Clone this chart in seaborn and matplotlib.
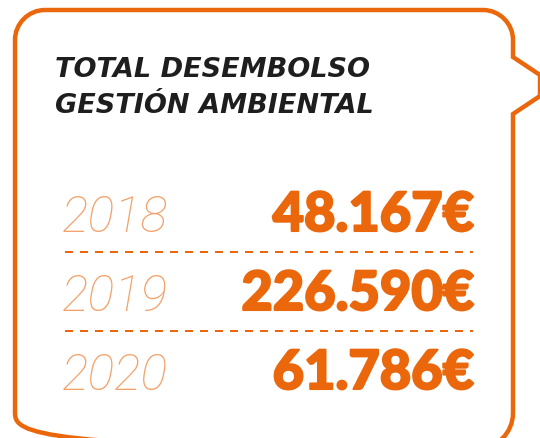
import numpy as np
import matplotlib
matplotlib.use("Agg")
import matplotlib.pyplot as plt
import matplotlib.patheffects as pe
from matplotlib.path import Path
from matplotlib.patches import PathPatch
import seaborn as sns

# data
title_lines = ["TOTAL DESEMBOLSO", "GESTIÓN AMBIENTAL"]
years = ["2018", "2019", "2020"]
amounts = [48167, 226590, 61786]

ORANGE = "#EA670C"
LIGHT = "#F2A26A"
DARK = "#1E1E1E"

sns.set_theme(style="white")
plt.rcParams["font.family"] = ["Roboto", "DejaVu Sans"]


def fmt_eur(v):
    # spanish thousands separator
    return f"{v:,}".replace(",", ".") + "€"


fig = plt.figure(figsize=(5.4, 4.39), dpi=100)
ax = fig.add_axes([0, 0, 1, 1])
ax.set_xlim(0, 540)
ax.set_ylim(439, 0)
ax.axis("off")

# speech bubble outline
L, T, R, B = 15, 11, 513, 450
r, rb = 30, 36
k = 0.45
verts = [
    (L + r, T), (R - r, T),
    (R - r * k, T), (R, T + r * k), (R, T + r),
    (R, 58), (540, 76), (540, 97), (R, 115),
    (R, B - rb),
    (R, B - rb * k), (R - rb * k, B), (R - rb, B),
    (L + rb, B),
    (L + rb * k, B), (L, B - rb * k), (L, B - rb),
    (L, T + r),
    (L, T + r * k), (L + r * k, T), (L + r, T),
]
codes = [Path.MOVETO, Path.LINETO,
         Path.CURVE4, Path.CURVE4, Path.CURVE4,
         Path.LINETO, Path.LINETO, Path.LINETO, Path.LINETO,
         Path.LINETO,
         Path.CURVE4, Path.CURVE4, Path.CURVE4,
         Path.LINETO,
         Path.CURVE4, Path.CURVE4, Path.CURVE4,
         Path.LINETO,
         Path.CURVE4, Path.CURVE4, Path.CURVE4]
ax.add_patch(PathPatch(Path(verts, codes), facecolor="none", edgecolor=ORANGE,
                       lw=3.2, clip_on=False, joinstyle="miter"))

# title
for i, line in enumerate(title_lines):
    ax.text(55, 77 + i * 36, line, fontsize=19.5, fontweight="bold", style="italic",
            family=["DejaVu Sans"], color=DARK, va="baseline", ha="left")

# rows
base0, step = 232, 79
for i, (yr, amt) in enumerate(zip(years, amounts)):
    yb = base0 + i * step
    ax.text(62, yb, yr, fontsize=36, fontweight=100, style="italic",
            color=LIGHT, va="baseline", ha="left")
    ax.text(474, yb, fmt_eur(amt), fontsize=39, fontweight=900,
            family=["Lato", "DejaVu Sans"],
            color=ORANGE, va="baseline", ha="right",
            path_effects=[pe.withStroke(linewidth=1.5, foreground=ORANGE)])
    if i < len(years) - 1:
        ax.plot([65, 473], [yb + 21, yb + 21], color=ORANGE, lw=1.44,
                linestyle=(0, (4.0, 3.5)), solid_capstyle="butt")

fig.savefig("out.png", dpi=100)
